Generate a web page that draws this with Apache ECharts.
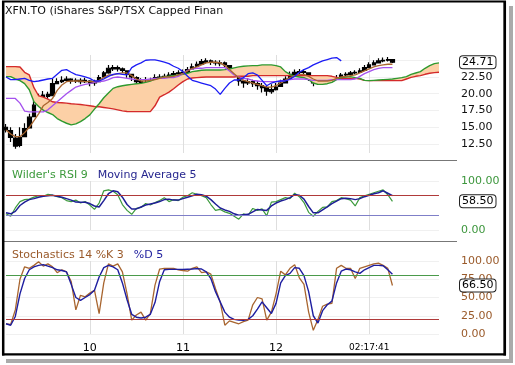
<!DOCTYPE html>
<html><head><meta charset="utf-8">
<script src="https://cdn.jsdelivr.net/npm/echarts@6/dist/echarts.min.js"></script>
<style>html,body{margin:0;padding:0;background:#fff}#c{width:515px;height:365px}</style>
</head><body><div id="c"></div>
<script>
// ---------- data ----------
const slotCount = 94;
const tickSlots = [18, 38, 58, 78];
const tickLabels = ['10', '11', '12', '02:17:41'];
const priceTicks = [12.5, 15, 17.5, 20, 22.5];
const rsiLevels = [70, 30];
const stochLevels = [80, 20];

const open = [15.0,14.5,13.4,12.3,13.6,14.9,16.6,18.4,19.3,19.9,
  19.7,21.5,21.8,22.0,22.2,21.9,22.0,21.8,21.9,21.6,
  21.8,22.5,23.1,23.7,23.9,23.7,23.4,22.9,22.4,21.8,
  21.3,21.6,21.9,22.4,22.5,22.6,22.8,23.0,23.1,23.2,
  23.7,24.1,24.4,24.7,24.9,24.7,24.5,24.6,24.2,23.6,
  22.9,21.9,21.6,21.8,21.5,21.2,20.9,20.3,20.6,21.1,
  21.6,22.3,22.9,23.2,23.3,23.1,22.3,21.6,21.7,21.8,
  21.9,22.2,22.4,22.8,22.9,23.1,23.2,23.5,23.9,24.3,
  24.6,24.9,25.0,25.1];
const close = [14.6,13.5,12.2,13.5,14.8,16.5,18.3,19.4,19.8,19.6,
  21.5,21.8,22.0,22.2,21.9,22.0,21.8,22.0,21.6,21.7,
  22.4,23.1,23.8,23.9,23.7,23.5,22.9,22.5,21.8,21.4,
  21.6,21.8,22.4,22.5,22.6,22.8,23.0,23.1,23.2,23.6,
  24.0,24.4,24.8,24.9,24.7,24.6,24.6,24.3,23.7,23.0,
  21.9,21.6,21.8,21.5,21.2,20.9,20.4,20.6,21.0,21.6,
  22.2,22.9,23.2,23.3,23.2,22.4,21.6,21.7,21.8,21.9,
  22.1,22.4,22.8,22.9,23.1,23.2,23.4,23.9,24.3,24.6,
  24.9,25.0,25.1,24.71];
const high = [15.5,15.0,14.0,15.0,15.6,17.0,19.0,20.0,20.4,20.3,
  22.3,22.3,22.6,22.6,22.3,22.3,22.3,22.4,22.0,22.1,
  22.8,23.4,24.3,24.3,24.2,23.9,23.4,23.0,22.6,22.3,
  22.5,22.4,22.9,22.9,23.0,23.2,23.4,23.5,23.6,24.0,
  24.5,24.8,25.2,25.3,25.1,25.0,25.0,24.8,24.3,23.6,
  22.6,22.1,22.3,22.1,21.9,21.6,21.2,21.4,21.6,22.1,
  22.6,23.3,23.6,23.7,23.6,23.0,22.2,22.2,22.2,22.3,
  22.5,22.8,23.1,23.2,23.4,23.5,23.8,24.3,24.7,25.0,
  25.3,25.4,25.5,25.2];
const low = [14.2,12.8,11.8,12.0,14.0,15.0,17.2,18.8,19.2,19.0,
  19.8,21.4,21.6,21.8,21.5,21.6,21.4,21.6,21.1,21.2,
  21.8,22.4,23.0,23.4,23.3,23.1,22.4,21.9,21.0,20.6,
  20.6,21.2,22.0,22.1,22.2,22.5,22.6,22.8,22.8,23.2,
  23.7,24.0,24.4,24.5,24.3,24.2,24.1,23.9,23.3,22.5,
  21.2,20.9,21.3,21.0,20.6,20.2,19.7,20.0,20.5,21.0,
  21.8,22.5,22.8,22.9,22.8,21.9,21.1,21.3,21.4,21.6,
  21.8,22.1,22.4,22.6,22.8,22.9,23.1,23.5,23.9,24.3,
  24.6,24.7,24.8,24.6];
const tenkan = [14.6,14.0,13.6,13.6,14.2,15.0,16.0,17.0,18.2,18.7,
  19.3,20.5,21.3,21.8,21.9,21.9,21.9,21.8,21.8,21.8,
  22.0,22.4,22.8,22.8,23.0,23.1,23.1,22.7,22.2,21.9,
  21.9,22.0,22.1,22.3,22.5,22.5,22.6,22.8,23.0,23.4,
  23.8,24.0,24.3,24.6,24.7,24.7,24.6,24.2,23.6,23.0,
  22.4,22.0,21.8,21.6,21.4,21.2,21.0,21.0,21.2,21.6,
  22.0,22.4,22.7,22.9,22.9,22.6,22.2,21.9,21.9,21.9,
  22.0,22.3,22.5,22.6,22.7,22.8,23.1,23.4,23.7,24.0,
  24.2,24.3,24.4,24.4];
const kijun = [19.3,19.3,19.3,18.6,17.4,17.3,17.3,17.3,17.3,17.6,
  18.2,18.8,19.4,20.0,20.5,21.0,21.2,21.4,21.5,21.7,
  21.8,21.9,22.1,22.4,22.5,22.4,22.3,22.2,22.1,22.1,
  22.1,22.2,22.3,22.3,22.3,22.4,22.4,22.6,23.0,23.5,
  23.7,23.8,23.8,23.9,23.9,23.9,23.9,23.9,23.4,22.8,
  22.5,22.3,22.2,22.0,21.9,21.8,21.8,21.8,21.8,21.9,
  22.0,22.1,22.2,22.2,22.2,22.1,22.0,22.0,22.0,22.0,
  22.1,22.1,22.1,22.1,22.1,22.2,22.6,23.0,23.3,23.6,
  23.8,23.9,23.9,23.9];
const chikou = [22.5,22.1,22.1,22.2,22.3,22.0,21.8,21.9,22.05,22.2,
  22.3,22.9,23.5,23.6,23.2,22.85,22.7,22.5,22.3,21.9,
  21.9,22.2,22.6,22.9,23.0,22.9,22.8,23.9,24.3,24.6,
  25.0,25.05,25.05,24.9,24.7,24.5,24.1,23.8,23.3,22.6,
  22.0,21.8,21.6,21.4,21.2,20.7,19.9,20.8,21.6,22.05,
  22.05,22.4,23.0,23.1,22.8,22.0,21.2,21.6,21.8,21.9,
  21.9,22.2,22.6,23.2,23.6,23.9,24.3,24.6,24.9,25.1,
  25.3,25.4,24.9];
const spanA = [22.55,22.55,22.2,21.95,21.5,20.6,18.8,18.1,17.55,17.2,
  16.9,16.3,15.9,15.6,15.35,15.5,15.85,16.3,16.85,17.7,
  18.5,19.4,20.1,20.8,21.05,21.2,21.3,21.4,21.5,21.55,
  21.7,21.9,22.2,22.35,22.5,22.6,22.7,22.8,22.9,23.05,
  23.3,23.4,23.5,23.55,23.55,23.55,23.55,23.6,23.7,23.85,
  24.0,24.1,24.15,24.2,24.2,24.3,24.3,24.3,24.2,24.0,
  23.3,22.9,22.6,22.5,22.4,22.1,21.6,21.4,21.4,21.5,
  21.7,22.1,22.4,22.5,22.55,22.4,22.3,22.0,21.95,22.0,
  22.05,22.1,22.15,22.2,22.3,22.4,22.55,22.9,23.1,23.3,
  23.8,24.2,24.5,24.6];
const spanB = [24.05,24.05,24.05,24.0,23.2,22.8,20.9,19.7,19.5,19.2,
  18.8,18.7,18.65,18.6,18.5,18.45,18.4,18.3,18.2,18.1,
  18.05,17.95,17.85,17.75,17.6,17.45,17.35,17.33,17.33,17.33,
  17.33,17.33,18.2,19.5,19.85,20.25,20.75,21.3,21.8,22.2,
  22.35,22.4,22.45,22.5,22.5,22.5,22.5,22.5,22.5,22.5,
  22.6,22.6,22.6,22.7,22.7,22.7,22.7,22.7,22.7,22.7,
  22.7,22.7,22.7,22.7,22.7,22.7,22.7,22.7,22.7,22.7,
  22.6,22.45,22.3,22.3,22.3,22.3,22.2,22.0,21.95,21.95,
  21.95,21.95,21.95,21.95,21.95,21.95,22.2,22.45,22.6,22.7,
  22.9,23.05,23.15,23.2];
const rsi = [33,28,45,58,62,63,67,70,69,73,
  71,68,66,60,58,61,55,58,51,42,
  55,80,82,79,72,52,40,32,44,46,
  54,51,56,60,66,58,62,60,67,70,
  76,73,70,66,52,40,42,37,34,28,
  22,33,30,44,40,43,29,57,58,62,
  66,64,75,68,56,36,28,38,46,47,
  58,60,66,64,61,49,66,70,73,76,
  79,82,72,58.5];
const rsiMA = [35,33,38,50,57,62,64,67,68.7,70,
  70.7,69,67,64,61,57,56.7,56.7,54,49,
  47,60,74,80,78,67,52,43,43,47,
  51,53,55,58,62,63,61,61,64,67,
  70,73,72,69,62,53,45,41,38,33,
  30,31,32,37,42,41,40,49,55,59,
  62,66,72,71,63,48,35,35,41,47,
  54,59,64,65,64,62,64,68,71,74,
  76,80,75,70];
const stochK = [14,13,33,75,92,90,94,99,93,96,
  92,84,88,85,72,33,53,51,56,60,
  28,70,96,93,96,85,55,19,26,30,
  19,28,67,89,90,90,90,88,87,86,
  90,92,84,85,82,62,44,12,18,16,
  14,17,19,40,50,48,19,30,55,86,
  81,90,95,77,68,30,5,20,38,41,
  42,90,94,90,90,76,90,92,94,96,
  97,94,90,66.5];
const stochD = [14,12,24,55,76,88,92,94,95,93,
  91,88,87,85,68,50,46,50,54,60,
  78,91,94,92,88,70,47,27,23,22,
  23,27,43,72,88,88.5,88.5,88.5,88.5,88.8,
  89,89.5,89,85,76,58,44,30,23,20,
  19,18.8,20,25,34,44,36,28,42,70,
  80,83,91,90,80,58,25,15,32,40,
  45,70,86,89,88,85,83,88,91,94,
  94,93.5,88,82];

// ---------- helpers built from the data ----------
const FONT = 'DejaVu Sans';
const cats = Array.from({length: slotCount}, (_, i) => String(i));
const labelAt = {};
tickSlots.forEach((s, k) => { labelAt[s] = tickLabels[k]; });
const isTick = (i) => labelAt[i] !== undefined;
const candles = close.map((c, i) => [open[i], c, low[i], high[i]]);
const cloudBase = spanA.map((a, i) => Math.min(a, spanB[i]));
const cloudBand = spanA.map((a, i) => Math.abs(a - spanB[i]));
const last = (arr) => arr[arr.length - 1];
const CLEAR = 'rgba(0,0,0,0)';

const boxLabel = (fmt) => ({
  show: true, position: 'end', distance: 21, formatter: fmt,
  color: '#000', fontSize: 11, fontFamily: FONT, opacity: 1,
  backgroundColor: '#fff', borderColor: '#222', borderWidth: 1, borderRadius: 3,
  padding: [1, 2, 0, 2]
});

function xAx(gridIndex, showLabel) {
  return {
    type: 'category', gridIndex, data: cats, boundaryGap: false,
    axisLine: {show: false}, axisTick: {show: false},
    axisLabel: {
      show: showLabel, interval: (i) => isTick(i), margin: 9,
      formatter: (v, i) => {
        const t = labelAt[i] || '';
        return t.length > 2 ? '{s|' + t + '}' : '{b|' + t + '}';
      },
      rich: {
        b: {fontSize: 11, fontFamily: FONT, color: '#000'},
        s: {fontSize: 9, fontFamily: FONT, color: '#000'}
      }
    },
    splitLine: {show: true, interval: (i) => isTick(i), lineStyle: {color: '#dedede', width: 1}}
  };
}

const chart = echarts.init(document.getElementById('c'), null, {renderer: 'canvas'});
chart.setOption({
  animation: false,
  backgroundColor: '#fff',
  title: [
    {text: 'XFN.TO (iShares S&P/TSX Capped Finan', left: 5, top: 6, padding: 0,
      textStyle: {fontSize: 11, fontWeight: 'normal', color: '#111', fontFamily: FONT}},
    {text: "{a|Wilder's RSI 9}  {b|Moving Average 5}", left: 12, top: 166, padding: 0,
      textStyle: {fontWeight: 'normal', rich: {
        a: {fontSize: 11, fontWeight: 'normal', color: '#3c9a3c', fontFamily: FONT},
        b: {fontSize: 11, fontWeight: 'normal', color: '#27278f', fontFamily: FONT}}}},
    {text: '{a|Stochastics 14 %K 3}  {b|%D 5}', left: 12, top: 246, padding: 0,
      textStyle: {fontWeight: 'normal', rich: {
        a: {fontSize: 11, fontWeight: 'normal', color: '#9a5a2a', fontFamily: FONT},
        b: {fontSize: 11, fontWeight: 'normal', color: '#2323a0', fontFamily: FONT}}}}
  ],
  grid: [
    {left: 6, right: 76, top: 55, height: 98},
    {left: 6, right: 76, top: 181, height: 49},
    {left: 6, right: 76, top: 261, height: 73}
  ],
  xAxis: [xAx(0, false), xAx(1, false), xAx(2, true)],
  yAxis: [
    {type: 'value', gridIndex: 0, position: 'right', min: 11.16, max: 25.78, scale: true,
      axisLine: {show: false}, axisTick: {show: false, customValues: priceTicks.concat([25])},
      axisLabel: {customValues: priceTicks, formatter: (v) => v.toFixed(2), margin: 22,
        color: '#111', fontSize: 11, fontFamily: FONT},
      splitLine: {show: true, lineStyle: {color: '#f0f0f0'}}},
    {type: 'value', gridIndex: 1, position: 'right', min: 0, max: 100, interval: 100,
      axisLine: {show: false}, axisTick: {show: false},
      axisLabel: {formatter: (v) => v.toFixed(2), margin: 22, color: '#3c963c', fontSize: 11, fontFamily: FONT},
      splitLine: {show: true, lineStyle: {color: '#f0f0f0'}}},
    {type: 'value', gridIndex: 2, position: 'right', min: 0, max: 100, interval: 25,
      axisLine: {show: false}, axisTick: {show: false},
      axisLabel: {formatter: (v) => v.toFixed(2), margin: 22, color: '#9a5a2a', fontSize: 11, fontFamily: FONT},
      splitLine: {show: true, lineStyle: {color: '#f0f0f0'}}}
  ],
  series: [
    {type: 'line', name: 'cloudBase', xAxisIndex: 0, yAxisIndex: 0, stack: 'cloud', data: cloudBase,
      symbol: 'none', silent: true, lineStyle: {opacity: 0}},
    {type: 'line', name: 'cloudBand', xAxisIndex: 0, yAxisIndex: 0, stack: 'cloud', data: cloudBand,
      symbol: 'none', silent: true, lineStyle: {opacity: 0}, areaStyle: {color: '#fcd0a6', opacity: 1}},
    {type: 'line', name: 'Senkou B', xAxisIndex: 0, yAxisIndex: 0, data: spanB, symbol: 'none',
      lineStyle: {color: '#d42a2a', width: 1.4}},
    {type: 'line', name: 'Senkou A', xAxisIndex: 0, yAxisIndex: 0, data: spanA, symbol: 'none',
      lineStyle: {color: '#2f9a2f', width: 1.4}},
    {type: 'candlestick', name: 'XFN.TO', xAxisIndex: 0, yAxisIndex: 0, data: candles, barWidth: 4,
      itemStyle: {color: '#000', color0: '#000', borderColor: '#000', borderColor0: '#000', borderWidth: 1.2}},
    {type: 'line', name: 'Kijun', xAxisIndex: 0, yAxisIndex: 0, data: kijun, symbol: 'none',
      lineStyle: {color: '#a552ee', width: 1.3}},
    {type: 'line', name: 'Tenkan', xAxisIndex: 0, yAxisIndex: 0, data: tenkan, symbol: 'none',
      lineStyle: {color: '#a8652f', width: 1.3}},
    {type: 'line', name: 'Chikou', xAxisIndex: 0, yAxisIndex: 0, data: chikou, symbol: 'none',
      lineStyle: {color: '#1c1cf5', width: 1.3},
      markLine: {symbol: ['none', 'none'], silent: true, lineStyle: {color: CLEAR, width: 0},
        label: boxLabel((p) => p.value.toFixed(2)), data: [{yAxis: last(close)}]}},

    {type: 'line', name: 'RSI', xAxisIndex: 1, yAxisIndex: 1, data: rsi, symbol: 'none',
      lineStyle: {color: '#3c9a3c', width: 1.2},
      markLine: {symbol: ['none', 'none'], silent: true, data: [
        {yAxis: rsiLevels[0], lineStyle: {color: '#b03a3a', width: 1, type: 'solid'}, label: {show: false}},
        {yAxis: rsiLevels[1], lineStyle: {color: '#7f7fc8', width: 1, type: 'solid'}, label: {show: false}},
        {yAxis: last(rsi), lineStyle: {color: CLEAR, width: 0}, label: boxLabel((p) => p.value.toFixed(2))}
      ]}},
    {type: 'line', name: 'RSI MA', xAxisIndex: 1, yAxisIndex: 1, data: rsiMA, symbol: 'none',
      lineStyle: {color: '#1e1e96', width: 1.5}},

    {type: 'line', name: '%K', xAxisIndex: 2, yAxisIndex: 2, data: stochK, symbol: 'none',
      lineStyle: {color: '#a8652f', width: 1.3},
      markLine: {symbol: ['none', 'none'], silent: true, data: [
        {yAxis: stochLevels[0], lineStyle: {color: '#4a9a4a', width: 1, type: 'solid'}, label: {show: false}},
        {yAxis: stochLevels[1], lineStyle: {color: '#b03a3a', width: 1, type: 'solid'}, label: {show: false}},
        {yAxis: last(stochK), lineStyle: {color: CLEAR, width: 0}, label: boxLabel((p) => p.value.toFixed(2))}
      ]}},
    {type: 'line', name: '%D', xAxisIndex: 2, yAxisIndex: 2, data: stochD, symbol: 'none',
      lineStyle: {color: '#1e1ea0', width: 1.4}}
  ],
  graphic: [
    {type: 'line', shape: {x1: 4, y1: 160.5, x2: 457, y2: 160.5}, style: {stroke: '#777', lineWidth: 1}, silent: true},
    {type: 'line', shape: {x1: 4, y1: 241.5, x2: 457, y2: 241.5}, style: {stroke: '#777', lineWidth: 1}, silent: true},
    {type: 'rect', shape: {x: 509, y: 6, width: 4, height: 357}, style: {fill: '#aaa'}, silent: true},
    {type: 'rect', shape: {x: 6, y: 359, width: 507, height: 4}, style: {fill: '#aaa'}, silent: true},
    {type: 'line', shape: {x1: 2, y1: 1.5, x2: 506, y2: 1.5}, style: {stroke: '#000', lineWidth: 2}, silent: true},
    {type: 'line', shape: {x1: 3.2, y1: 1, x2: 3.2, y2: 355.5}, style: {stroke: '#000', lineWidth: 2.5}, silent: true},
    {type: 'line', shape: {x1: 2, y1: 354.3, x2: 506, y2: 354.3}, style: {stroke: '#000', lineWidth: 2.2}, silent: true},
    {type: 'line', shape: {x1: 504.7, y1: 1, x2: 504.7, y2: 355.5}, style: {stroke: '#000', lineWidth: 2.7}, silent: true}
  ]
});
</script></body></html>
